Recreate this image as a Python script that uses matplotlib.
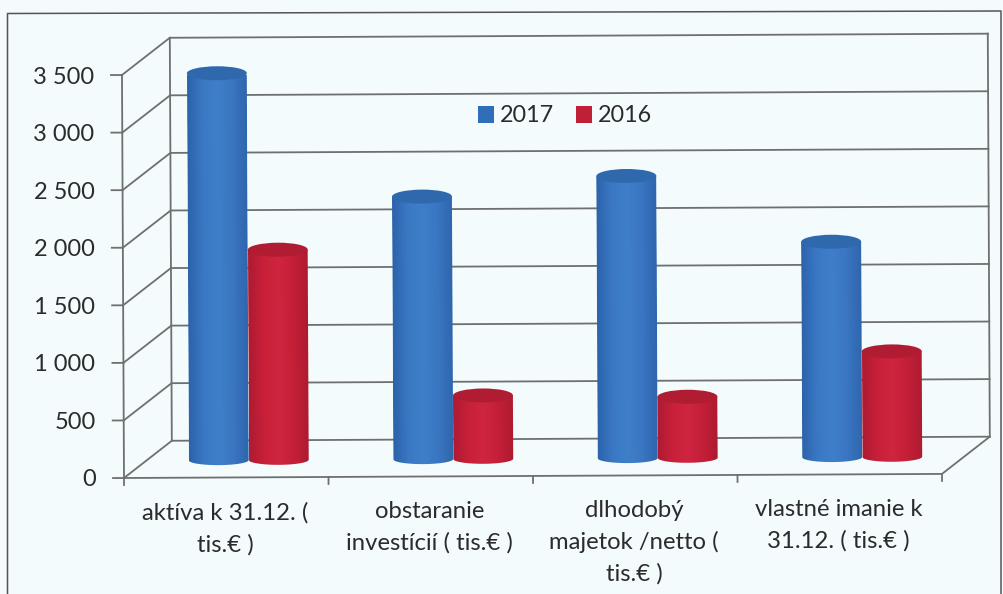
import numpy as np
import matplotlib
matplotlib.use("Agg")
import matplotlib.pyplot as plt
from matplotlib.patches import Ellipse, PathPatch, Patch
from matplotlib.path import Path
from matplotlib.lines import Line2D
from matplotlib.transforms import Affine2D
from matplotlib.colors import LinearSegmentedColormap

categories = ["aktíva k 31.12. (\ntis.€ )", "obstaranie\ninvestícií ( tis.€ )",
              "dlhodobý\nmajetok /netto (\ntis.€ )", "vlastné imanie k\n31.12. ( tis.€ )"]
values_2017 = [3360, 2280, 2450, 1870]
values_2016 = [1825, 550, 530, 915]
series_names = ["2017", "2016"]
y_ticks = [0, 500, 1000, 1500, 2000, 2500, 3000, 3500]
y_tick_labels = ["0", "500", "1 000", "1 500", "2 000", "2 500", "3 000", "3 500"]

W, H = 1004, 594
BG = "#f3fbfd"; LINE = "#6f6f6f"; TXT = "#2b2b2b"
plt.rcParams["font.family"] = ["Lato", "DejaVu Sans"]
fig = plt.figure(figsize=(W/100, H/100), dpi=100, facecolor=BG)

L, B, AW, AH = 124, H-478, 818, 403
ax = fig.add_axes([L/W, B/H, AW/W, AH/H])
ax.set_xlim(0, 4); ax.set_ylim(0, 3500); ax.axis("off")
# the scanned page is very slightly rotated
tr = ax.transData + Affine2D().rotate_around(L, B, 0.0050)
DX = 48/AW*4; DY = 37/AH*3500
PXY = 3500/AH

def ln(x, y, z=2, lw=1.3, c=LINE):
    ax.add_line(Line2D(x, y, transform=tr, color=c, lw=lw, zorder=z, clip_on=False))

# frame of the chart
fig.add_artist(Line2D([7.5/W, 7.5/W, 1001/W, 1001/W], [0, 1-13.5/H, 1-11/H, 0],
                      transform=fig.transFigure, color="#555555", lw=1.1))
# walls and gridlines
for v in y_ticks:
    ln([0, DX, 4+DX], [v, v+DY, v+DY])
    ln([-11/AW*4, 0], [v, v])
ln([DX, DX], [DY, 3500+DY]); ln([4+DX, 4+DX], [DY, 3500+DY])
ln([0, 0], [0, 3500]); ln([0, 4], [0, 0]); ln([4, 4+DX], [0, DY])
for i in range(5):
    ln([i, i], [0, -7*PXY])

cm_blue = LinearSegmentedColormap.from_list("b", ["#2c63ab", "#3a78c4", "#3f7fca", "#3a76c2", "#2f66ae"])
cm_red = LinearSegmentedColormap.from_list("r", ["#ae1b32", "#c9203a", "#cf2540", "#c41f38", "#ad1b30"])
grad = np.linspace(0, 1, 64).reshape(1, -1)

BW = 60/AW*4
CAP_H = 14*PXY; FOOT_H = 10*PXY
D0 = 0.47

def cylinder(xc, val, cmap, top):
    yb = D0*DY
    x0, x1 = xc-BW/2, xc+BW/2
    t = np.linspace(np.pi, 2*np.pi, 40)
    verts = [(x0, yb+val)] + list(zip(xc+BW/2*np.cos(t), yb+FOOT_H/2*np.sin(t))) + [(x1, yb+val), (x0, yb+val)]
    codes = [Path.MOVETO] + [Path.LINETO]*(len(verts)-2) + [Path.CLOSEPOLY]
    p = PathPatch(Path(verts, codes), transform=tr, fc="none", ec="none", zorder=3, clip_on=False)
    ax.add_patch(p)
    im = ax.imshow(grad, cmap=cmap, extent=[x0, x1, yb-FOOT_H, yb+val], aspect="auto",
                   transform=tr, zorder=3)
    im.set_clip_path(p)
    ax.add_patch(Ellipse((xc, yb+val), BW, CAP_H, transform=tr, fc=top, ec="none", zorder=3.1, clip_on=False))

for i, (a, b) in enumerate(zip(values_2017, values_2016)):
    c = i+0.5+D0*DX
    cylinder(c-BW/2, a, cm_blue, "#2f68ad")
    cylinder(c+BW/2, b, cm_red, "#b01c32")
ax.set_xlim(0, 4); ax.set_ylim(0, 3500)

for v, s in zip(y_ticks, y_tick_labels):
    ax.annotate(s, xy=(0, v), xycoords=tr, xytext=(-28, 0), textcoords="offset pixels",
                ha="right", va="center_baseline", fontsize=17, color=TXT)
for i, s in enumerate(categories):
    ax.annotate(s, xy=(i+0.5, 0), xycoords=tr, xytext=(-1, -25), textcoords="offset pixels",
                ha="center", va="top", fontsize=17.2, color=TXT, linespacing=1.55)

handles = [Patch(fc="#2f6fba", ec="none"), Patch(fc="#c01f38", ec="none")]
leg = ax.legend(handles, series_names, ncols=2, frameon=False, fontsize=16.8,
                loc="center", bbox_to_anchor=((565-L)/AW, (H-116-B)/AH),
                handlelength=0.7, handleheight=0.7, handletextpad=0.25, columnspacing=0.95,
                labelcolor=TXT)
leg.set_zorder(5)
fig.savefig("out.png", dpi=100, facecolor=BG)
